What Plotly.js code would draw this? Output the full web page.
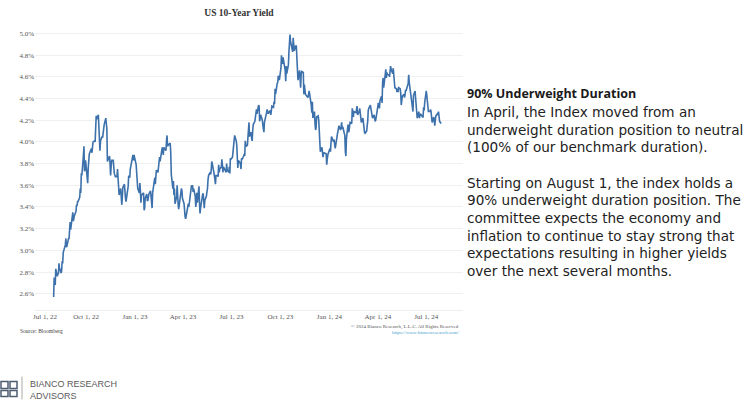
<!DOCTYPE html>
<html>
<head>
<meta charset="utf-8">
<script src="https://cdn.plot.ly/plotly-3.0.1.min.js"></script>
<style>html,body{margin:0;padding:0;background:#fff;}#chart{width:755px;height:402px;}</style>
</head>
<body>
<div id="chart"></div>
<script>
// ---- DATA: US 10-Year Treasury yield (%) ----
const days2022 = ["08-01","08-02","08-03","08-04","08-05","08-08","08-09","08-10","08-11","08-12","08-15","08-16","08-17","08-18","08-19","08-22","08-23","08-24","08-25","08-26","08-29","08-30","08-31","09-01","09-02","09-06","09-07","09-08","09-09","09-12","09-13","09-14","09-15","09-16","09-19","09-20","09-21","09-22","09-23","09-26","09-27","09-28","09-29","09-30","10-03","10-04","10-05","10-06","10-07","10-11","10-12","10-13","10-14","10-17","10-18","10-19","10-20","10-21","10-24","10-25","10-26","10-27","10-28","10-31","11-01","11-02","11-03","11-04","11-07","11-08","11-09","11-10","11-14","11-15","11-16","11-17","11-18","11-21","11-22","11-23","11-25","11-28","11-29","11-30","12-01","12-02","12-05","12-06","12-07","12-08","12-09","12-12","12-13","12-14","12-15","12-16","12-19","12-20","12-21","12-22","12-23","12-27","12-28","12-29","12-30"];
const yields2022 = [2.57,2.75,2.73,2.68,2.83,2.76,2.79,2.78,2.88,2.84,2.79,2.81,2.90,2.88,2.98,3.03,3.05,3.11,3.03,3.04,3.11,3.11,3.19,3.26,3.19,3.35,3.27,3.31,3.32,3.36,3.42,3.41,3.45,3.45,3.49,3.57,3.53,3.71,3.69,3.88,3.96,3.73,3.75,3.83,3.65,3.62,3.76,3.83,3.89,3.94,3.90,3.95,4.00,4.01,4.00,4.13,4.24,4.21,4.25,4.10,4.04,3.92,4.01,4.05,4.04,4.10,4.14,4.16,4.22,4.13,4.12,3.82,3.87,3.80,3.69,3.77,3.83,3.83,3.76,3.71,3.68,3.68,3.75,3.61,3.51,3.51,3.57,3.51,3.42,3.49,3.58,3.61,3.50,3.48,3.45,3.48,3.59,3.69,3.67,3.67,3.75,3.84,3.88,3.83,3.88];

const days2023 = ["01-03","01-04","01-05","01-06","01-09","01-10","01-11","01-12","01-13","01-17","01-18","01-19","01-20","01-23","01-24","01-25","01-26","01-27","01-30","01-31","02-01","02-02","02-03","02-06","02-07","02-08","02-09","02-10","02-13","02-14","02-15","02-16","02-17","02-21","02-22","02-23","02-24","02-27","02-28","03-01","03-02","03-03","03-06","03-07","03-08","03-09","03-10","03-13","03-14","03-15","03-16","03-17","03-20","03-21","03-22","03-23","03-24","03-27","03-28","03-29","03-30","03-31","04-03","04-04","04-05","04-06","04-10","04-11","04-12","04-13","04-14","04-17","04-18","04-19","04-20","04-21","04-24","04-25","04-26","04-27","04-28","05-01","05-02","05-03","05-04","05-05","05-08","05-09","05-10","05-11","05-12","05-15","05-16","05-17","05-18","05-19","05-22","05-23","05-24","05-25","05-26","05-30","05-31","06-01","06-02","06-05","06-06","06-07","06-08","06-09","06-12","06-13","06-14","06-15","06-16","06-20","06-21","06-22","06-23","06-26","06-27","06-28","06-29","06-30","07-03","07-05","07-06","07-07","07-10","07-11","07-12","07-13","07-14","07-17","07-18","07-19","07-20","07-21","07-24","07-25","07-26","07-27","07-28","07-31","08-01","08-02","08-03","08-04","08-07","08-08","08-09","08-10","08-11","08-14","08-15","08-16","08-17","08-18","08-21","08-22","08-23","08-24","08-25","08-28","08-29","08-30","08-31","09-01","09-05","09-06","09-07","09-08","09-11","09-12","09-13","09-14","09-15","09-18","09-19","09-20","09-21","09-22","09-25","09-26","09-27","09-28","09-29","10-02","10-03","10-04","10-05","10-06","10-10","10-11","10-12","10-13","10-16","10-17","10-18","10-19","10-20","10-23","10-24","10-25","10-26","10-27","10-30","10-31","11-01","11-02","11-03","11-06","11-07","11-08","11-09","11-10","11-13","11-14","11-15","11-16","11-17","11-20","11-21","11-22","11-24","11-27","11-28","11-29","11-30","12-01","12-04","12-05","12-06","12-07","12-08","12-11","12-12","12-13","12-14","12-15","12-18","12-19","12-20","12-21","12-22","12-26","12-27","12-28","12-29"];
const yields2023 = [3.79,3.69,3.72,3.57,3.53,3.62,3.55,3.44,3.51,3.53,3.37,3.39,3.48,3.52,3.46,3.46,3.49,3.52,3.55,3.51,3.42,3.39,3.53,3.64,3.67,3.61,3.66,3.74,3.72,3.77,3.81,3.86,3.82,3.95,3.92,3.88,3.95,3.92,3.92,4.01,4.06,3.96,3.98,3.97,3.99,3.90,3.70,3.57,3.64,3.51,3.57,3.43,3.49,3.60,3.44,3.42,3.38,3.53,3.57,3.57,3.55,3.48,3.43,3.34,3.31,3.29,3.41,3.43,3.40,3.45,3.52,3.60,3.59,3.60,3.54,3.57,3.50,3.40,3.45,3.53,3.44,3.59,3.44,3.34,3.39,3.44,3.52,3.52,3.44,3.39,3.46,3.50,3.54,3.57,3.65,3.69,3.72,3.70,3.74,3.82,3.80,3.69,3.64,3.61,3.69,3.69,3.68,3.79,3.72,3.75,3.77,3.84,3.79,3.72,3.77,3.73,3.72,3.80,3.74,3.72,3.77,3.71,3.85,3.84,3.86,3.94,4.03,4.06,4.01,3.97,3.86,3.76,3.83,3.81,3.79,3.75,3.85,3.84,3.87,3.89,3.87,4.01,3.96,3.97,4.05,4.08,4.18,4.05,4.09,4.03,4.01,4.11,4.16,4.19,4.22,4.26,4.30,4.26,4.34,4.33,4.19,4.24,4.25,4.20,4.12,4.12,4.09,4.18,4.27,4.30,4.27,4.26,4.29,4.27,4.25,4.29,4.33,4.32,4.37,4.35,4.49,4.44,4.54,4.55,4.61,4.59,4.57,4.68,4.80,4.73,4.72,4.78,4.66,4.56,4.70,4.63,4.71,4.83,4.90,4.99,4.93,4.86,4.83,4.96,4.86,4.84,4.89,4.88,4.77,4.67,4.57,4.66,4.57,4.50,4.63,4.65,4.64,4.44,4.53,4.45,4.44,4.42,4.41,4.41,4.47,4.39,4.34,4.27,4.37,4.22,4.28,4.17,4.11,4.13,4.23,4.24,4.20,4.02,3.91,3.91,3.95,3.92,3.86,3.89,3.90,3.89,3.79,3.84,3.88];

const days2024 = ["01-02","01-03","01-04","01-05","01-08","01-09","01-10","01-11","01-12","01-16","01-17","01-18","01-19","01-22","01-23","01-24","01-25","01-26","01-29","01-30","01-31","02-01","02-02","02-05","02-06","02-07","02-08","02-09","02-12","02-13","02-14","02-15","02-16","02-20","02-21","02-22","02-23","02-26","02-27","02-28","02-29","03-01","03-04","03-05","03-06","03-07","03-08","03-11","03-12","03-13","03-14","03-15","03-18","03-19","03-20","03-21","03-22","03-25","03-26","03-27","03-28","04-01","04-02","04-03","04-04","04-05","04-08","04-09","04-10","04-11","04-12","04-15","04-16","04-17","04-18","04-19","04-22","04-23","04-24","04-25","04-26","04-29","04-30","05-01","05-02","05-03","05-06","05-07","05-08","05-09","05-10","05-13","05-14","05-15","05-16","05-17","05-20","05-21","05-22","05-23","05-24","05-28","05-29","05-30","05-31","06-03","06-04","06-05","06-06","06-07","06-10","06-11","06-12","06-13","06-14","06-17","06-18","06-20","06-21","06-24","06-25","06-26","06-27","06-28","07-01","07-02","07-03","07-05","07-08","07-09","07-10","07-11","07-12","07-15","07-16","07-17","07-18","07-19","07-22","07-23","07-24","07-25","07-26","07-29"];
const yields2024 = [3.94,3.91,3.99,4.05,4.01,4.02,4.02,3.97,3.94,4.07,4.10,4.14,4.15,4.11,4.13,4.18,4.12,4.14,4.08,4.06,3.91,3.87,4.03,4.16,4.09,4.10,4.15,4.18,4.17,4.31,4.26,4.23,4.28,4.27,4.32,4.33,4.25,4.28,4.31,4.27,4.25,4.18,4.22,4.15,4.11,4.09,4.08,4.10,4.15,4.19,4.29,4.31,4.34,4.30,4.28,4.27,4.22,4.25,4.23,4.19,4.20,4.33,4.36,4.35,4.31,4.38,4.42,4.36,4.55,4.59,4.50,4.63,4.67,4.59,4.64,4.62,4.62,4.60,4.65,4.70,4.67,4.63,4.68,4.63,4.58,4.50,4.49,4.46,4.49,4.46,4.50,4.49,4.45,4.34,4.38,4.42,4.44,4.41,4.43,4.48,4.47,4.54,4.62,4.55,4.51,4.40,4.33,4.29,4.28,4.43,4.47,4.40,4.31,4.24,4.22,4.28,4.22,4.26,4.25,4.23,4.23,4.32,4.29,4.36,4.47,4.43,4.36,4.28,4.28,4.30,4.28,4.20,4.18,4.23,4.16,4.15,4.20,4.24,4.26,4.25,4.28,4.24,4.19,4.17];

const yTicks = [2.6,2.8,3.0,3.2,3.4,3.6,3.8,4.0,4.2,4.4,4.6,4.8,5.0];
const xTicks = ["2022-10-01","2023-01-01","2023-04-01","2023-07-01","2023-10-01","2024-01-01","2024-04-01","2024-07-01"];
const firstTick = "2022-07-01";

const chartTitle = "US 10-Year Yield";
const sourceText = "Source: Bloomberg";
const copyrightText = "© 2024 Bianco Research, L.L.C. All Rights Reserved";
const urlText = "https://www.biancoresearch.com/";
const sideHeading = "90% Underweight Duration";
const sideLines = ["In April, the Index moved from an","underweight duration position to neutral","(100% of our benchmark duration).","",
  "Starting on August 1, the index holds a","90% underweight duration position. The","committee expects the economy and",
  "inflation to continue to stay strong that","expectations resulting in higher yields","over the next several months."];
const logoLines = ["BIANCO RESEARCH","ADVISORS"];

// ---- BUILD ----
const dates = [].concat(
  days2022.map(d => "2022-" + d),
  days2023.map(d => "2023-" + d),
  days2024.map(d => "2024-" + d));
const yields = [].concat(yields2022, yields2023, yields2024);

const W = 755, H = 402, ML = 35, MR = 292, MT = 26.5, MB = 91.7;
const PW = W - ML - MR, PH = H - MT - MB;
const px = x => (x - ML) / PW;
const py = y => (H - MB - y) / PH;

const serif = "Liberation Serif, Times New Roman, serif";
const sans = "Open Sans, Lato, sans-serif";

const trace = {
  x: dates, y: yields, type: "scatter", mode: "lines",
  line: {color: "#3d71ab", width: 1.6},
  hoverinfo: "skip"
};

const annotations = [
  {xref: "x", yref: "paper", x: firstTick, y: py(317), xshift: 8, text: "Jul 1, 22",
   showarrow: false, xanchor: "center", yanchor: "middle", font: {family: serif, size: 7, color: "#555"}},
  {xref: "paper", yref: "paper", x: px(18), y: py(331), text: sourceText, showarrow: false,
   xanchor: "left", yanchor: "middle", font: {family: serif, size: 5.5, color: "#444"}},
  {xref: "paper", yref: "paper", x: px(461), y: py(327.5), text: copyrightText, showarrow: false,
   xanchor: "right", yanchor: "middle", font: {family: serif, size: 5, color: "#555"}},
  {xref: "paper", yref: "paper", x: px(461), y: py(333), text: urlText, showarrow: false,
   xanchor: "right", yanchor: "middle", font: {family: serif, size: 5, color: "#4a9fd0"}},
  {xref: "paper", yref: "paper", x: px(465), y: py(93), xanchor: "left", yanchor: "middle", align: "left",
   showarrow: false, text: "<b>" + sideHeading + "</b>",
   font: {family: sans, size: 12.5, color: "#1a1a1a"}},
  {xref: "paper", yref: "paper", x: px(465), y: py(102), xanchor: "left", yanchor: "top", align: "left",
   showarrow: false, text: sideLines.map(t => t || " ").join("<br>"),
   font: {family: "DejaVu Sans, Open Sans, sans-serif", size: 13.6, color: "#222"}},
  {xref: "paper", yref: "paper", x: px(28), y: py(377), xanchor: "left", yanchor: "top", align: "left",
   showarrow: false, text: logoLines.join("<br>"),
   font: {family: "Liberation Sans, Arial, sans-serif", size: 9, color: "#5a5a5a"}}
];

const logoColor = "#4e5d72";
const shapes = [
  {type: "line", xref: "paper", yref: "paper", x0: px(22), x1: px(22), y0: py(377), y1: py(400),
   line: {color: "#aaa", width: 1}},
  {type: "rect", xref: "paper", yref: "paper", x0: px(1), x1: px(8), y0: py(382), y1: py(389),
   line: {color: logoColor, width: 1.5}},
  {type: "rect", xref: "paper", yref: "paper", x0: px(10), x1: px(17), y0: py(382), y1: py(389),
   line: {color: logoColor, width: 1.5}},
  {type: "rect", xref: "paper", yref: "paper", x0: px(1), x1: px(8), y0: py(391), y1: py(397),
   line: {color: logoColor, width: 1.5}},
  {type: "rect", xref: "paper", yref: "paper", x0: px(10), x1: px(17), y0: py(391), y1: py(397),
   line: {color: logoColor, width: 1.5}}
];

const layout = {
  width: W, height: H,
  margin: {l: ML, r: MR, t: MT, b: MB, pad: 0},
  paper_bgcolor: "#fff", plot_bgcolor: "#fff",
  showlegend: false,
  title: {text: "<b>" + chartTitle + "</b>", xref: "paper", x: (239 - ML) / PW, xanchor: "center",
          yref: "container", y: 1 - 13 / H, yanchor: "middle",
          font: {family: serif, size: 9.5, color: "#333"}},
  xaxis: {type: "date", range: ["2022-06-27", "2024-09-08"], tickvals: xTicks,
          tickformat: "%b %-d, %y", showgrid: false, zeroline: false,
          showline: true, linecolor: "#eeeeee", linewidth: 1, ticks: "",
          tickfont: {family: serif, size: 7, color: "#555"}},
  yaxis: {range: [2.45, 5.06], tickvals: yTicks, ticktext: yTicks.map(v => v.toFixed(1) + "%"),
          showgrid: true, gridcolor: "#f0f0f0", gridwidth: 1, zeroline: false, showline: false,
          ticks: "", tickfont: {family: serif, size: 7, color: "#555"}},
  annotations: annotations,
  shapes: shapes
};

Plotly.newPlot("chart", [trace], layout, {staticPlot: true, displayModeBar: false});
</script>
</body>
</html>
